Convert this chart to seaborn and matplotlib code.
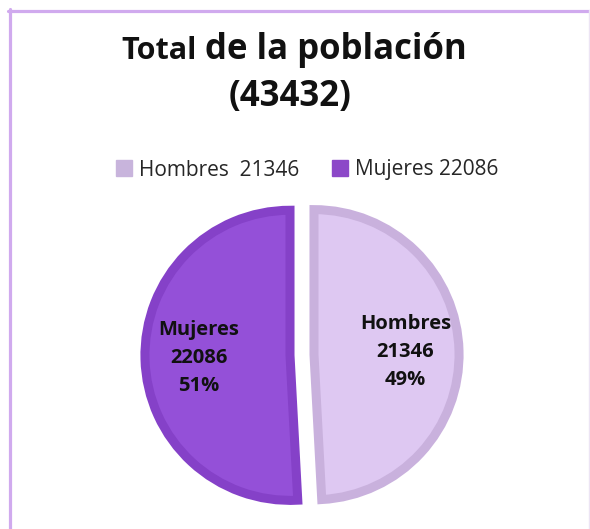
import matplotlib
matplotlib.use("Agg")
import matplotlib.pyplot as plt
import seaborn as sns
from matplotlib.lines import Line2D

# datos
categorias = ["Hombres", "Mujeres"]
valores = [21346, 22086]
total = 43432
colores = ["#dec8f2", "#9450d8"]
bordes = ["#c9b1dd", "#8541c8"]
legend_colors = ["#c8b4dc", "#8c48c8"]
legend_labels = ["Hombres  21346", "Mujeres 22086"]

sns.set_theme(style="white")
plt.rcParams["font.family"] = ["Open Sans", "DejaVu Sans"]

W, H = 590, 529
fig = plt.figure(figsize=(W / 100, H / 100), dpi=100)

# marco exterior
fig.add_artist(Line2D([9.5 / W, 9.5 / W], [0, 1 - 9 / H], color="#d0aaee", lw=2.3))
fig.add_artist(Line2D([8 / W, 1], [1 - 10.5 / H, 1 - 10.5 / H], color="#d0aaee", lw=2.3))
fig.add_artist(Line2D([589 / W, 589 / W], [0, 1 - 10 / H], color="#ece4f4", lw=1))

# titulo
fig.text(197 / W, 1 - 59 / H, "Total", ha="right", va="baseline",
         fontsize=22, fontweight="bold", color="#111111")
fig.text(205 / W, 1 - 59 / H, "de la población", ha="left", va="baseline",
         fontsize=25, fontweight="bold", color="#111111")
fig.text(290 / W, 1 - 106 / H, "(%d)" % total, ha="center", va="baseline",
         fontsize=25, fontweight="bold", color="#111111")

# pastel
cx, cy = 302, 355
ax = fig.add_axes([(cx - 165) / W, (H - cy - 165) / H, 330 / W, 330 / H])


def etiqueta(pct):
    i = 0 if abs(pct - 100 * valores[0] / total) < 0.01 else 1
    return "%s\n%d\n%d%%" % (categorias[i], valores[i], round(pct))


wedges, textos, autotextos = ax.pie(
    valores, colors=colores, startangle=90, counterclock=False,
    explode=[0.08, 0.08], radius=0.967, autopct=etiqueta, pctdistance=0.63,
    wedgeprops=dict(linewidth=6.5, joinstyle="miter"),
    textprops=dict(fontsize=14.5, fontweight="bold", color="#111111", linespacing=1.55))
for w, b in zip(wedges, bordes):
    w.set_edgecolor(b)
ax.set_xlim(-1.1, 1.1)
ax.set_ylim(-1.1, 1.1)
ax.set_aspect("equal")
ax.axis("off")

# leyenda
handles = [Line2D([], [], marker="s", ls="", markersize=11, color=c) for c in legend_colors]
fig.legend(handles, legend_labels, loc="center", bbox_to_anchor=(306 / W, 1 - 170 / H),
           ncol=2, frameon=False, fontsize=15, handletextpad=0.2, columnspacing=1.5,
           handlelength=1.0)

fig.savefig("out.png", dpi=100)
